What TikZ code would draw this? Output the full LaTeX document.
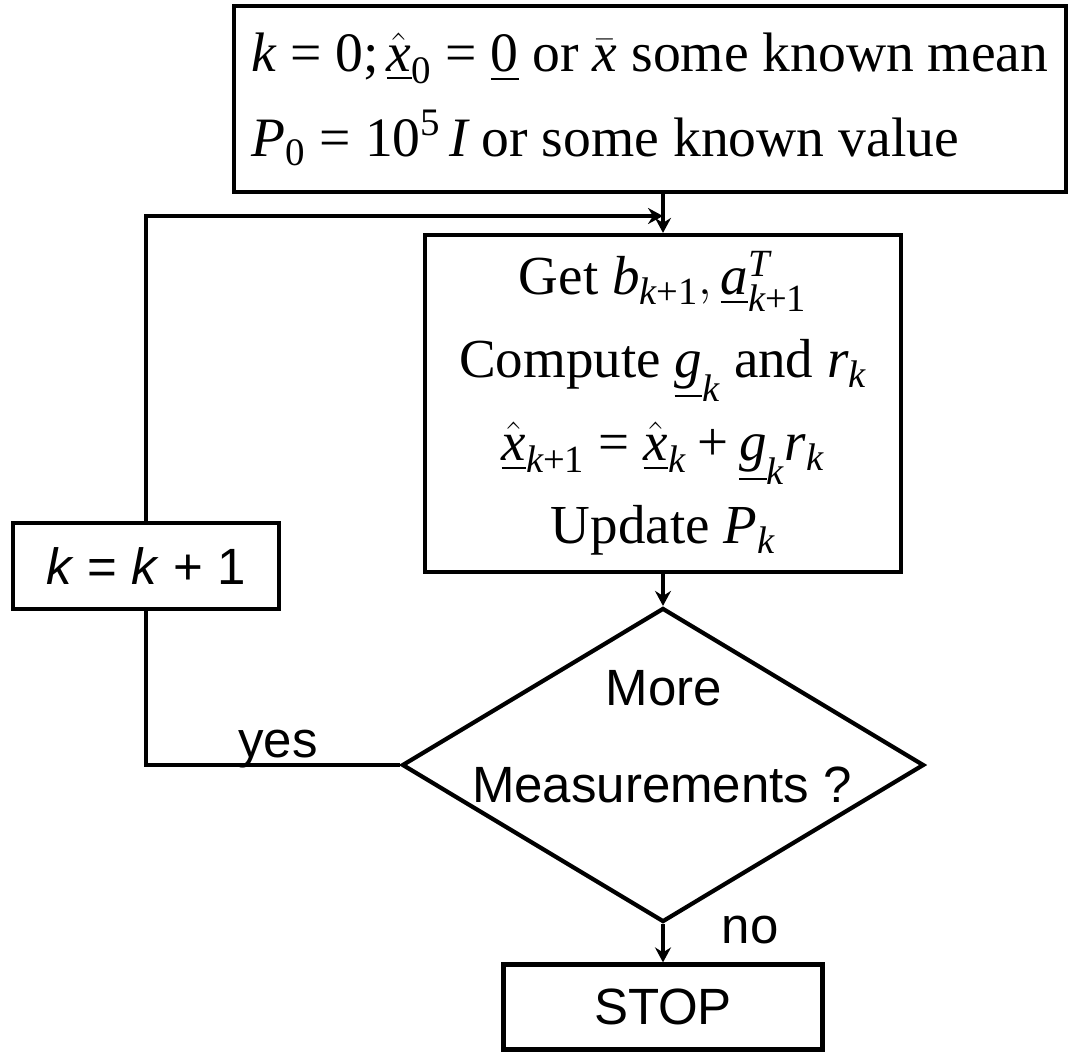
\documentclass[tikz,border=0pt]{standalone}
\usepackage{amsmath}
\usepackage{fontspec}
\setmainfont{Liberation Serif}
\newfontfamily\arialfont{Liberation Sans}
\usetikzlibrary{shapes.geometric,arrows.meta}

% math set in the Times-like text font
\newcommand{\mi}[1]{\text{\itshape #1}}
\newcommand{\mn}[1]{\text{\upshape #1}}
\newcommand{\eqs}{\mathrel{\text{\upshape =}}}
\newcommand{\pls}{\mathbin{\text{\upshape +}}}
\newcommand{\kp}{\mi{k}\pls\mn{1}}

\begin{document}
\begin{tikzpicture}[x=0.5pt,y=-0.5pt,
  line width=2.1pt,
  box/.style={draw,rectangle,inner sep=0pt},
  serif/.style={font=\fontsize{27.5}{41.5}\selectfont},
  sans/.style={font=\arialfont\fontsize{25.5}{30}\selectfont},
  flow/.style={-{Stealth[length=7.5pt,width=8pt,inset=2.5pt]}}
]
\useasboundingbox (0,0) rectangle (1070,1051);

% initialisation
\node[box, minimum width=416pt, minimum height=93pt, align=left,
      font=\fontsize{27.8}{42.5}\selectfont] (init) at (650,99)
  {$\mi{k}\eqs\mn{0}\mathpunct{\text{;}}\underline{\hat{\mi{x}}}_{\mn{0}}\eqs\underline{\mn{0}}$ or $\bar{\mi{x}}$ some known mean\\
   $\mi{P}_{\mn{0}}\eqs\mn{10}^{\mn{5}}\,\mi{I}$ or some known value};

% recursive update step
\node[box, minimum width=238pt, minimum height=168.5pt, align=center, serif] (proc) at (663,403.5)
  {Get $\mi{b}_{\kp},\underline{\mi{a}}^{\mi{T}}_{\kp}$\\
   Compute $\underline{\mi{g}}_{\mi{k}}$ and $\mi{r}_{\mi{k}}$\\
   $\underline{\hat{\mi{x}}}_{\kp}\eqs\underline{\hat{\mi{x}}}_{\mi{k}}\pls\underline{\mi{g}}_{\mi{k}}\mi{r}_{\mi{k}}$\\
   Update $\mi{P}_{\mi{k}}$};

% decision
\node[draw, diamond, minimum width=261pt, minimum height=157pt, inner sep=0pt] (dec) at (663,765) {};
\node[sans, anchor=base] (more) at (664,705) {More};
\node[sans, anchor=base] (meas) at (662,802) {Measurements ?};

% counter and end
\node[box, minimum width=133pt, minimum height=43pt, sans] (inc) at (146,566) {\textit{k} = \textit{k} + 1};
\node[box, minimum width=159.5pt, minimum height=42.5pt, sans] (stop) at (663,1007) {STOP};

% branch labels
\node[sans, anchor=base] (yes) at (278,757) {yes};
\node[sans, anchor=base] (no) at (750,943) {no};

% connectors
\coordinate (looprow) at (0,216);
\coordinate (merge) at (proc.north |- looprow);
\draw[flow] (proc.north |- init.south) -- (proc.north);
\draw[flow] (inc.north) |- (merge);
\draw (dec.west) -| (inc.south);
\draw[flow] (proc.south) -- (dec.north);
\draw[flow] (dec.south) -- (stop.north);
\end{tikzpicture}
\end{document}
